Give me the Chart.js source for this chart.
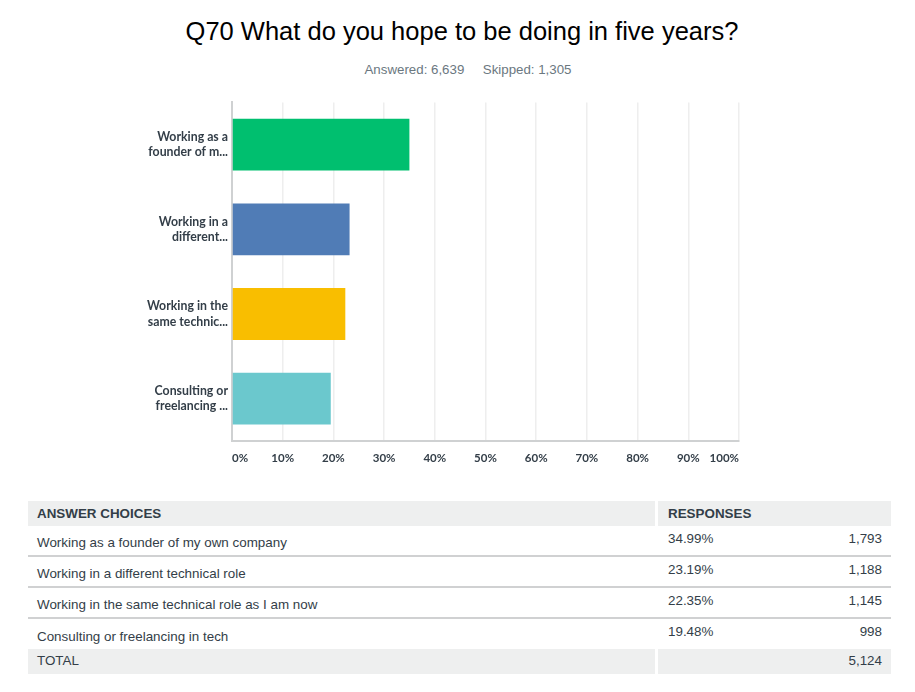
<!DOCTYPE html>
<html>
<head>
<meta charset="utf-8">
<script src="https://cdn.jsdelivr.net/npm/chart.js@4/dist/chart.umd.min.js"></script>
<style>
  html, body { margin: 0; padding: 0; background: #fff; }
  body { width: 915px; height: 692px; position: relative; overflow: hidden; font-family: "Liberation Sans", Arial, sans-serif; color: #333e48; }
  #title { position: absolute; left: 0; width: 924px; top: 15px; text-align: center; font-size: 25.5px; line-height: 32px; color: #000; white-space: nowrap; }
  #subtitle { position: absolute; left: 0; width: 936px; top: 62px; text-align: center; font-size: 13.3px; line-height: 16px; color: #6b787f; white-space: pre; }
  #chartWrap { position: absolute; left: 0; top: 83px; width: 915px; height: 390px; }
  #tbl { position: absolute; left: 28px; top: 501px; width: 863px; font-size: 13.4px; color: #333e48; }
  .row { position: relative; display: flex; }
  .c1 { width: 627px; padding-left: 9px; box-sizing: border-box; }
  .gap { width: 3px; }
  .c2 { width: 233px; display: flex; justify-content: space-between; padding-left: 10px; padding-right: 9px; box-sizing: border-box; }
  .hdr { height: 25px; }
  .hdr .c1, .hdr .c2 { background: #eeefef; font-weight: bold; line-height: 15px; padding-top: 5px; }
  .data { height: 31px; border-bottom: 2px solid #d0d1d2; box-sizing: border-box; }
  .data.last { border-bottom: none; height: 30px; }
  .data .c1 { line-height: 15px; padding-top: 9px; }
  .data.last .c1 { padding-top: 10px; }
  .data .c2 { line-height: 15px; padding-top: 5px; }
  .tot { height: 25px; }
  .tot .c1, .tot .c2 { background: #eeefef; line-height: 15px; padding-top: 4px; }
</style>
</head>
<body>
<div id="title"></div>
<div id="subtitle"></div>
<div id="chartWrap"><canvas id="c" width="915" height="390"></canvas></div>
<div id="tbl"></div>
<script>
const titleText = "Q70 What do you hope to be doing in five years?";
const answered = "6,639";
const skipped = "1,305";
const categories = [
  ["Working as a", "founder of m..."],
  ["Working in a", "different..."],
  ["Working in the", "same technic..."],
  ["Consulting or", "freelancing ..."]
];
const fullChoices = [
  "Working as a founder of my own company",
  "Working in a different technical role",
  "Working in the same technical role as I am now",
  "Consulting or freelancing in tech"
];
const percents = [34.99, 23.19, 22.35, 19.48];
const counts = ["1,793", "1,188", "1,145", "998"];
const total = "5,124";
const barColors = ["#00bf6f", "#507cb6", "#f9be00", "#6bc8cd"];
const xTicks = [0, 10, 20, 30, 40, 50, 60, 70, 80, 90, 100];

document.getElementById('title').textContent = titleText;
document.getElementById('subtitle').textContent = "Answered: " + answered + "     Skipped: " + skipped;

// table
const tbl = document.getElementById('tbl');
function el(cls, html) { const d = document.createElement('div'); d.className = cls; if (html !== undefined) d.innerHTML = html; return d; }
const hdr = el('row hdr');
hdr.appendChild(el('c1', 'ANSWER CHOICES'));
hdr.appendChild(el('gap'));
hdr.appendChild(el('c2', '<span>RESPONSES</span><span></span>'));
tbl.appendChild(hdr);
fullChoices.forEach((c, i) => {
  const r = el('row data' + (i === fullChoices.length - 1 ? ' last' : ''));
  r.appendChild(el('c1', c));
  r.appendChild(el('gap'));
  r.appendChild(el('c2', '<span>' + percents[i].toFixed(2) + '%</span><span>' + counts[i] + '</span>'));
  tbl.appendChild(r);
});
const tot = el('row tot');
tot.appendChild(el('c1', 'TOTAL'));
tot.appendChild(el('gap'));
tot.appendChild(el('c2', '<span></span><span>' + total + '</span>'));
tbl.appendChild(tot);

const tickFont = 'bold 11.5px Lato, "Open Sans", sans-serif';
const tickLabelPlugin = {
  id: 'tickLabels',
  afterDraw(chart) {
    const sx = chart.scales.x;
    const ctx = chart.ctx;
    ctx.save();
    ctx.font = tickFont;
    ctx.fillStyle = '#333e48';
    ctx.textBaseline = 'middle';
    const y = chart.chartArea.bottom + 17;
    xTicks.forEach((v, i) => {
      const px = sx.getPixelForValue(v);
      ctx.textAlign = i === 0 ? 'left' : (i === xTicks.length - 1 ? 'right' : 'center');
      ctx.fillText(v + '%', px, y);
    });
    ctx.restore();
  }
};

new Chart(document.getElementById('c'), {
  type: 'bar',
  data: {
    labels: categories,
    datasets: [{
      data: percents,
      backgroundColor: barColors,
      borderWidth: 0,
      barPercentage: 0.612,
      categoryPercentage: 1.0
    }]
  },
  options: {
    indexAxis: 'y',
    responsive: false,
    animation: false,
    devicePixelRatio: 1,
    layout: { padding: { left: 0, right: 176, top: 4, bottom: 32 } },
    plugins: { legend: { display: false }, tooltip: { enabled: false }, title: { display: false } },
    scales: {
      x: {
        min: 0, max: 100,
        ticks: { stepSize: 10, display: false },
        grid: { color: '#eeeeee', lineWidth: 1.5, drawTicks: false },
        border: { color: '#cfd1d2', width: 2 }
      },
      y: {
        afterFit(scale) { scale.width = 232; },
        ticks: {
          color: '#333e48',
          font: { family: 'Lato, "Open Sans", sans-serif', size: 12.3, weight: 'bold', lineHeight: 1.25 },
          padding: 4
        },
        grid: { display: false, drawTicks: false },
        border: { color: '#cfd1d2', width: 2 }
      }
    }
  },
  plugins: [tickLabelPlugin]
});
</script>
</body>
</html>
